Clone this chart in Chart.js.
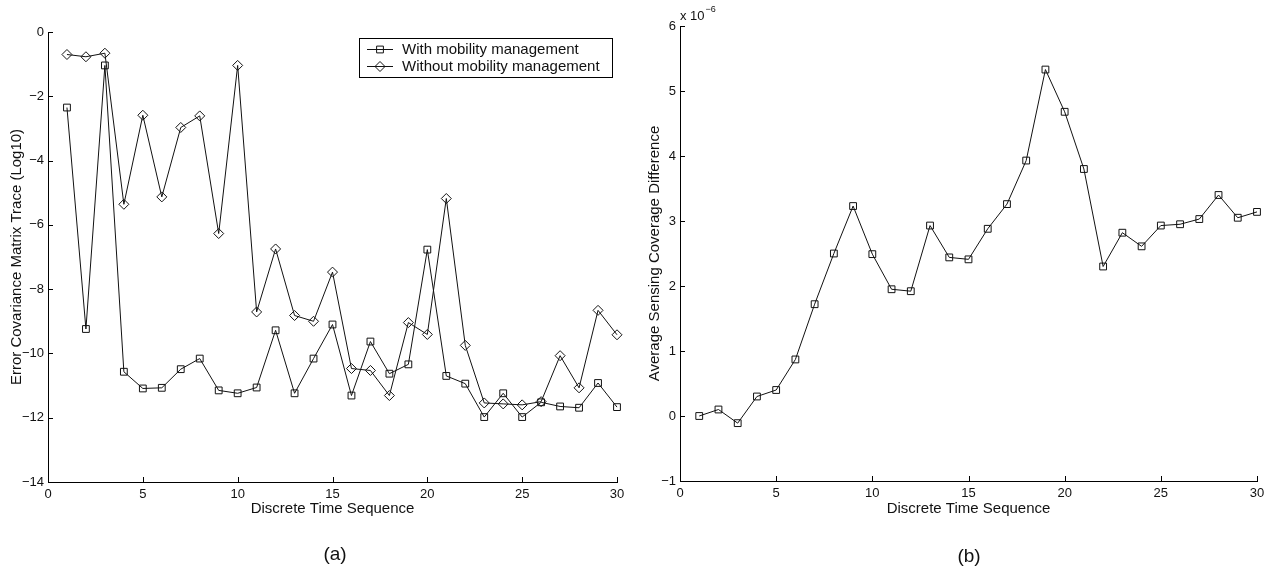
<!DOCTYPE html>
<html>
<head>
<meta charset="utf-8">
<title>Mobility management results</title>
<script src="https://cdn.jsdelivr.net/npm/chart.js@4.4.1/dist/chart.umd.min.js"></script>
<style>
  body { margin: 0; background: #fff; width: 1267px; height: 571px; position: relative; overflow: hidden;
         font-family: "Liberation Sans", Arial, Helvetica, sans-serif; }
  .panel { position: absolute; top: 0; }
  .caption { position: absolute; font-size: 19px; color: #111; transform: translate(-50%, -50%); white-space: nowrap; }
</style>
</head>
<body>
<canvas id="errorChart" class="panel" width="633" height="571" style="left:0"></canvas>
<canvas id="coverageChart" class="panel" width="634" height="571" style="left:633px"></canvas>
<div class="caption" style="left:335px; top:554px">(a)</div>
<div class="caption" style="left:969px; top:556px">(b)</div>

<script>
// values
const timeSteps = [1, 2, 3, 4, 5, 6, 7, 8, 9, 10, 11, 12, 13, 14, 15,
                   16, 17, 18, 19, 20, 21, 22, 23, 24, 25, 26, 27, 28, 29, 30];

// (a) log10 of the error covariance trace
const withMobility = [-2.35, -9.24, -1.04, -10.57, -11.09, -11.07, -10.49, -10.16, -11.15, -11.24,
                      -11.06, -9.28, -11.24, -10.16, -9.1, -11.31, -9.63, -10.63, -10.34, -6.77,
                      -10.7, -10.94, -11.98, -11.24, -11.98, -11.52, -11.65, -11.69, -10.92, -11.67];
const withoutMobility = [-0.7, -0.77, -0.66, -5.36, -2.59, -5.13, -2.97, -2.61, -6.27, -1.04,
                         -8.71, -6.75, -8.82, -9.0, -7.47, -10.47, -10.53, -11.31, -9.04, -9.41,
                         -5.18, -9.75, -11.54, -11.57, -11.6, -11.5, -10.07, -11.07, -8.66, -9.42];

// (b) average sensing coverage difference, in units of 1e-6
const coverageDiff = [0.0, 0.1, -0.11, 0.3, 0.4, 0.87, 1.72, 2.5, 3.23, 2.49,
                      1.95, 1.92, 2.93, 2.44, 2.41, 2.88, 3.26, 3.93, 5.33, 4.68,
                      3.8, 2.3, 2.82, 2.61, 2.93, 2.95, 3.03, 3.4, 3.05, 3.14];

const seriesLabels = ['With mobility management', 'Without mobility management'];
const xTitle = 'Discrete Time Sequence';
const yTitleA = 'Error Covariance Matrix Trace (Log10)';
const yTitleB = 'Average Sensing Coverage Difference';

const FONT = '"Liberation Sans", Arial, Helvetica, sans-serif';
const INK = '#111';

function toPoints(ys) {
    return timeSteps.map((t, i) => ({ x: t, y: ys[i] }));
}

// MATLAB style minus sign
function minusLabel(v) {
    return String(v).replace('-', '\u2212');
}

function lineDataset(label, values, style, radius) {
    return {
        label: label,
        data: toPoints(values),
        borderColor: INK,
        borderWidth: 1,
        pointStyle: style,
        pointRadius: radius,
        pointBorderColor: INK,
        pointBorderWidth: 1,
        pointBackgroundColor: 'rgba(0,0,0,0)',
        tension: 0,
        fill: false,
        clip: false
    };
}

// pin an axis box to a fixed size so the plot area lines up with the figure
function pinBox(size, horizontal) {
    return function (scale) {
        if (horizontal) scale.height = size; else scale.width = size;
        scale.paddingLeft = scale.paddingRight = scale.paddingTop = scale.paddingBottom = 0;
    };
}

function xAxis(height) {
    return {
        type: 'linear',
        min: 0, max: 30,
        ticks: { stepSize: 5, padding: 5, color: INK, maxRotation: 0, autoSkip: false,
                 font: { family: FONT, size: 13 } },
        grid: { display: false, drawTicks: false },
        border: { display: true, color: '#000', width: 1 },
        title: { display: true, text: xTitle, color: INK, font: { family: FONT, size: 15 },
                 padding: { top: 0, bottom: 13 } },
        afterFit: pinBox(height, true)
    };
}

function yAxis(min, max, step, text, width, titlePad) {
    return {
        min: min, max: max,
        ticks: { stepSize: step, padding: 4, color: INK, autoSkip: false,
                 font: { family: FONT, size: 13 }, callback: minusLabel },
        grid: { display: false, drawTicks: false },
        border: { display: true, color: '#000', width: 1 },
        title: { display: true, text: text, color: INK, font: { family: FONT, size: 15 },
                 padding: { top: titlePad, bottom: 0 } },
        afterFit: pinBox(width, false)
    };
}

// short tick marks pointing into the plot, left and bottom only
const inwardTicks = {
    id: 'inwardTicks',
    afterDatasetsDraw(chart) {
        const { ctx, chartArea, scales } = chart;
        ctx.save();
        ctx.strokeStyle = '#000';
        ctx.lineWidth = 1;
        ctx.beginPath();
        scales.x.ticks.forEach(t => {
            const px = Math.round(scales.x.getPixelForValue(t.value)) + 0.5;
            ctx.moveTo(px, chartArea.bottom);
            ctx.lineTo(px, chartArea.bottom - 5);
        });
        scales.y.ticks.forEach(t => {
            const py = Math.round(scales.y.getPixelForValue(t.value)) + 0.5;
            ctx.moveTo(chartArea.left, py);
            ctx.lineTo(chartArea.left + 5, py);
        });
        ctx.stroke();
        ctx.restore();
    }
};

// boxed legend with a line sample through each marker
const boxLegend = {
    id: 'boxLegend',
    afterDraw(chart, args, opts) {
        if (!opts.display) return;
        const ctx = chart.ctx;
        ctx.save();
        ctx.fillStyle = '#fff';
        ctx.fillRect(opts.x, opts.y, opts.width, opts.height);
        ctx.strokeStyle = '#000';
        ctx.lineWidth = 1;
        ctx.strokeRect(opts.x + 0.5, opts.y + 0.5, opts.width, opts.height);
        ctx.font = '15px ' + FONT;
        ctx.textBaseline = 'middle';
        chart.data.datasets.forEach((ds, i) => {
            const rowY = opts.y + opts.firstRow + i * opts.rowGap;
            const x0 = opts.x + 8, x1 = opts.x + 34;
            ctx.strokeStyle = INK;
            ctx.beginPath();
            ctx.moveTo(x0, rowY);
            ctx.lineTo(x1, rowY);
            ctx.stroke();
            ctx.fillStyle = 'rgba(0,0,0,0)';
            Chart.helpers.drawPoint(ctx, { pointStyle: ds.pointStyle, radius: ds.pointRadius,
                                           rotation: 0, borderWidth: 1 }, (x0 + x1) / 2, rowY);
            ctx.fillStyle = INK;
            ctx.fillText(ds.label, opts.x + 43, rowY);
        });
        ctx.restore();
    }
};

// "x 10^-6" multiplier above the y axis
const axisExponent = {
    id: 'axisExponent',
    afterDraw(chart, args, opts) {
        if (!opts.text) return;
        const { ctx, chartArea } = chart;
        ctx.save();
        ctx.fillStyle = INK;
        ctx.textBaseline = 'alphabetic';
        ctx.font = '13px ' + FONT;
        ctx.fillText(opts.text, chartArea.left, 20);
        const w = ctx.measureText(opts.text).width;
        ctx.font = '9px ' + FONT;
        ctx.fillText(opts.power, chartArea.left + w + 1, 12);
        ctx.restore();
    }
};

const basePlugins = {
    legend: { display: false },
    tooltip: { enabled: false }
};

new Chart(document.getElementById('errorChart'), {
    type: 'line',
    data: {
        datasets: [
            lineDataset(seriesLabels[0], withMobility, 'rect', 4.8),
            lineDataset(seriesLabels[1], withoutMobility, 'rectRot', 5)
        ]
    },
    options: {
        responsive: false,
        animation: false,
        layout: { padding: { top: 32, right: 16, bottom: 40, left: 0 } },
        scales: {
            x: xAxis(49),
            y: yAxis(-14, 0, 2, yTitleA, 48, 8)
        },
        plugins: Object.assign({}, basePlugins, {
            boxLegend: { display: true, x: 359, y: 38, width: 253, height: 39, firstRow: 11.5, rowGap: 17 },
            axisExponent: {}
        })
    },
    plugins: [inwardTicks, boxLegend, axisExponent]
});

new Chart(document.getElementById('coverageChart'), {
    type: 'line',
    data: {
        datasets: [lineDataset('Coverage difference', coverageDiff, 'rect', 4.8)]
    },
    options: {
        responsive: false,
        animation: false,
        layout: { padding: { top: 26, right: 10, bottom: 40, left: 0 } },
        scales: {
            x: xAxis(50),
            y: yAxis(-1, 6, 1, yTitleB, 47, 13)
        },
        plugins: Object.assign({}, basePlugins, {
            boxLegend: { display: false },
            axisExponent: { text: 'x 10', power: '\u22126' }
        })
    },
    plugins: [inwardTicks, boxLegend, axisExponent]
});
</script>
</body>
</html>
